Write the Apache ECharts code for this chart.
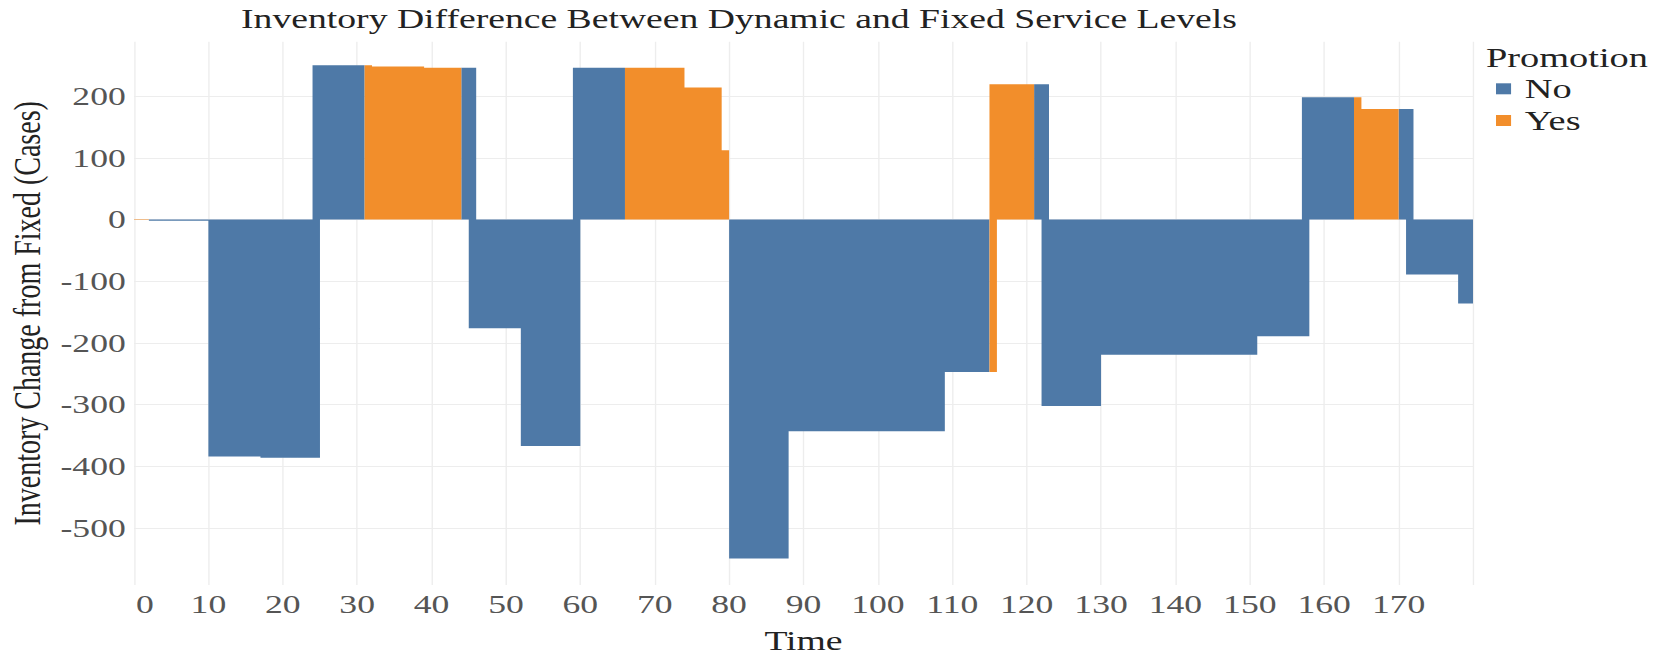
<!DOCTYPE html>
<html>
<head>
<meta charset="utf-8">
<script src="https://cdn.jsdelivr.net/npm/echarts@6/dist/echarts.min.js"></script>
<style>
html, body { margin: 0; padding: 0; background: #ffffff; overflow: hidden; }
#wrap { width: 1661px; height: 655px; overflow: hidden; position: relative; }
#chart { position: absolute; left: 0; top: 0; height: 655px; transform-origin: 0 0; }
</style>
</head>
<body>
<div id="wrap"><div id="chart"></div></div>
<script>
// ---------------- data ----------------
const titleText = 'Inventory Difference Between Dynamic and Fixed Service Levels';
const xAxisTitle = 'Time';
const yAxisTitle = 'Inventory Change from Fixed (Cases)';
const legendTitle = 'Promotion';
const promoLevels = ['No', 'Yes'];
const yTicks = [-500, -400, -300, -200, -100, 0, 100, 200];
const timeSteps = Array.from({ length: 180 }, (_, i) => String(i));

// primary bar value at each time step 0..179
const difference = [
  1, 1, -2, -2, -2, -2, -2, -2, -2, -2,
  -384, -384, -384, -384, -384, -384, -384, -386, -386, -386,
  -386, -386, -386, -386, 250, 250, 250, 250, 250, 250,
  250, 250, 248, 248, 248, 248, 248, 248, 248, 246,
  246, 246, 246, 246, 246, 246, -176, -176, -176, -176,
  -176, -176, -367, -367, -367, -367, -367, -367, -367, 246,
  246, 246, 246, 246, 246, 246, 246, 246, 246, 246,
  246, 246, 246, 246, 214, 214, 214, 214, 214, 112,
  -549, -549, -549, -549, -549, -549, -549, -549, -343, -343,
  -343, -343, -343, -343, -343, -343, -343, -343, -343, -343,
  -343, -343, -343, -343, -343, -343, -343, -343, -343, -247,
  -247, -247, -247, -247, -247, 219, 219, 219, 219, 219,
  219, 219, 219, -302, -302, -302, -302, -302, -302, -302,
  -219, -219, -219, -219, -219, -219, -219, -219, -219, -219,
  -219, -219, -219, -219, -219, -219, -219, -219, -219, -219,
  -219, -189, -189, -189, -189, -189, -189, 198, 198, 198,
  198, 198, 198, 198, 198, 179, 179, 179, 179, 179,
  179, 179, -89, -89, -89, -89, -89, -89, -136, -136
];

// promotion flag at each time step 0..179
const promotion = [
  'Yes','Yes','No','No','No','No','No','No','No','No',
  'No','No','No','No','No','No','No','No','No','No',
  'No','No','No','No','No','No','No','No','No','No',
  'No','Yes','Yes','Yes','Yes','Yes','Yes','Yes','Yes','Yes',
  'Yes','Yes','Yes','Yes','No','No','No','No','No','No',
  'No','No','No','No','No','No','No','No','No','No',
  'No','No','No','No','No','No','Yes','Yes','Yes','Yes',
  'Yes','Yes','Yes','Yes','Yes','Yes','Yes','Yes','Yes','Yes',
  'No','No','No','No','No','No','No','No','No','No',
  'No','No','No','No','No','No','No','No','No','No',
  'No','No','No','No','No','No','No','No','No','No',
  'No','No','No','No','No','Yes','Yes','Yes','Yes','Yes',
  'Yes','No','No','No','No','No','No','No','No','No',
  'No','No','No','No','No','No','No','No','No','No',
  'No','No','No','No','No','No','No','No','No','No',
  'No','No','No','No','No','No','No','No','No','No',
  'No','No','No','No','Yes','Yes','Yes','Yes','Yes','Yes',
  'No','No','No','No','No','No','No','No','No','No'
];

// time steps that also carry a second (opposite-sign) bar
const overlapTime = [24, 45, 59, 115, 122, 157, 171];
const overlapValue = [-386, -176, -367, -247, -302, -189, -89];

// ---------------- build ----------------
const COLORS = { No: '#4E79A7', Yes: '#F28E2B' };
const FONT = '"Liberation Serif", "Times New Roman", serif';
const S = 1.37;                 // horizontal stretch of the picture
const W = 1661 / S;
const hx = v => v / S;          // full-width pixel -> internal pixel

const chartEl = document.getElementById('chart');
chartEl.style.width = W + 'px';
chartEl.style.transform = 'scaleX(' + S + ')';

// all [time, value] pairs of one promotion level (primary bars + second bars)
function barsFor(level) {
  const out = [];
  difference.forEach((v, i) => { if (promotion[i] === level) out.push([timeSteps[i], v]); });
  overlapTime.forEach((t, k) => { if (promotion[t] === level) out.push([timeSteps[t], overlapValue[k]]); });
  return out;
}

const series = promoLevels.map(level => ({
  name: level,
  type: 'bar',
  data: barsFor(level),
  large: true,             // all bars of a level drawn as one shape: no seams between touching bars
  largeThreshold: 1,
  barGap: '-100%',
  barCategoryGap: '0%',
  itemStyle: { color: COLORS[level] },
  emphasis: { disabled: true }
}));

const chart = echarts.init(chartEl, null, { renderer: 'svg' });
chart.setOption({
  animation: false,
  backgroundColor: '#ffffff',
  textStyle: { fontFamily: FONT },
  graphic: [
    {
      type: 'text', x: hx(739), y: 18.5,
      style: { text: titleText, fill: '#222222', fontSize: 27.5, fontFamily: FONT,
               textAlign: 'center', textVerticalAlign: 'middle' }
    },
    {
      type: 'text', x: hx(1486), y: 57.5,
      style: { text: legendTitle, fill: '#222222', fontSize: 28, fontFamily: FONT,
               textAlign: 'left', textVerticalAlign: 'middle' }
    }
  ],
  legend: {
    data: promoLevels,
    orient: 'vertical',
    left: hx(1496),
    top: 74.8,
    padding: 0,
    itemWidth: 11,
    itemHeight: 11,
    itemGap: 3.7,
    icon: 'rect',
    selectedMode: false,
    formatter: '{a|{name}}',
    textStyle: {
      fontSize: 28, lineHeight: 28, color: '#222222', fontFamily: FONT,
      rich: { a: { fontSize: 28, lineHeight: 28, color: '#222222', fontFamily: FONT, padding: [0, 0, 0, 5] } }
    }
  },
  grid: { left: hx(134), top: 41.7, width: hx(1339), height: 543.3, containLabel: false, outerBoundsMode: 'none' },
  xAxis: {
    type: 'category',
    data: timeSteps,
    boundaryGap: true,
    axisLine: { show: false },
    axisTick: { show: false },
    axisLabel: {
      interval: 9,
      margin: 6,
      fontSize: 26,
      color: '#555555',
      fontFamily: FONT,
      formatter: v => v === '0' ? '{z|' + v + '}' : '{n|' + v + '}',
      rich: {
        n: { fontSize: 26, color: '#555555', fontFamily: FONT, padding: [0, 5.44, 0, 0] },
        z: { fontSize: 26, color: '#555555', fontFamily: FONT, padding: [0, 0, 0, 10.6] }
      }
    },
    splitLine: { show: true, interval: 9, lineStyle: { color: '#ededed', width: 1 } },
    name: xAxisTitle,
    nameLocation: 'middle',
    nameGap: 42,
    nameTextStyle: { fontSize: 27.5, color: '#222222', fontFamily: FONT }
  },
  yAxis: {
    type: 'value',
    min: -592,
    max: 288,
    axisLine: { show: false },
    axisTick: { show: false, customValues: yTicks },
    axisLabel: { customValues: yTicks, fontSize: 26, color: '#555555', margin: 6, fontFamily: FONT },
    splitLine: { show: true, lineStyle: { color: '#ededed', width: 1 } },
    name: yAxisTitle,
    nameLocation: 'middle',
    nameGap: 60,
    nameTextStyle: { fontSize: 28, color: '#222222', fontFamily: FONT }
  },
  series: series
});
</script>
</body>
</html>
